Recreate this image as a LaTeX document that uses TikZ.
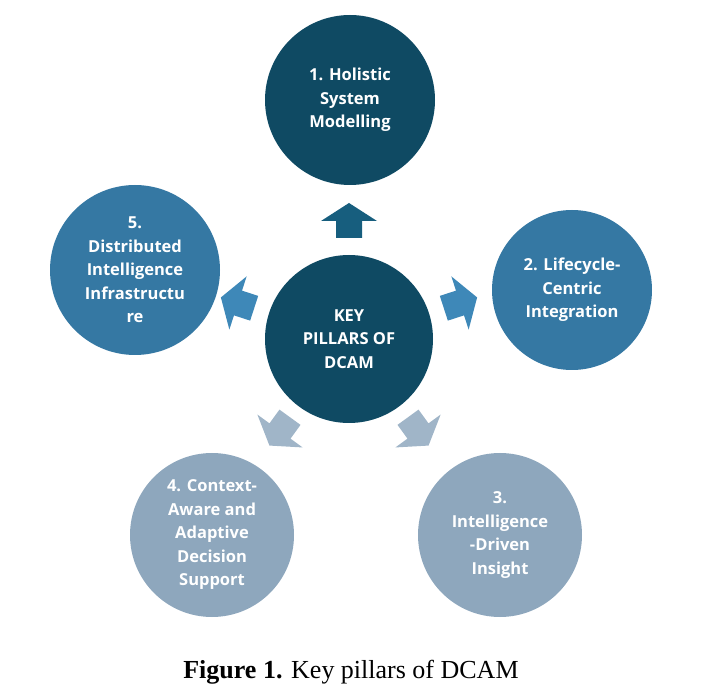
\documentclass[tikz,border=0pt]{standalone}
\usepackage{fontspec}
\usetikzlibrary{calc}
\setmainfont{Open Sans}
\newfontfamily\capfont{Liberation Serif}
\definecolor{cdark}{HTML}{0F4A63}
\definecolor{carrowd}{HTML}{175E7E}
\definecolor{cmid}{HTML}{3578A3}
\definecolor{carrowm}{HTML}{3E88B8}
\definecolor{clight}{HTML}{8EA7BD}
\definecolor{carrowl}{HTML}{A0B5C8}
\tikzset{
 pillar/.style={circle,minimum size=#1,inner sep=0pt,text=white,align=center,
   font=\fontsize{16.5}{23.5}\selectfont\bfseries},
 blockarrow/.pic={\fill[#1] (-17,-13)--(0,-13)--(0,-28)--(18,0)--(0,28)--(0,13)--(-17,13)--cycle;}
}
\begin{document}
\begin{tikzpicture}[x=1pt,y=-1pt]
\useasboundingbox (0,0) rectangle (702,700);
\node[pillar=168pt,fill=cdark] (c) at (349,339) {KEY\\PILLARS OF\\DCAM};
\node[pillar=170pt,fill=cdark] (p1) at (350,100) {1. Holistic\\System\\Modelling};
\node[pillar=160pt,fill=cmid] (p2) at (572,290) {2. Lifecycle-\\Centric\\Integration};
\node[pillar=164pt,fill=clight] (p3) at (500,535) {3.\\Intelligence\\-Driven\\Insight};
\node[pillar=164pt,fill=clight] (p4) at (212,535) {4. Context-\\Aware and\\Adaptive\\Decision\\Support};
\node[pillar=170pt,fill=cmid] (p5) at (135,270) {5.\\Distributed\\Intelligence\\Infrastructu\\re};
\pic[rotate=90] at ($(c)+(0,-118)$) {blockarrow=carrowd};
\pic[rotate=18] at ($(c)+(111,-36)$) {blockarrow=carrowm};
\pic[rotate=162] at ($(c)+(-111,-36)$) {blockarrow=carrowm};
\pic[rotate=-54] at ($(c)+(69,92)$) {blockarrow=carrowl};
\pic[rotate=-126] at ($(c)+(-69,92)$) {blockarrow=carrowl};
\node[font=\capfont\fontsize{26}{30}\selectfont] (cap) at (351,672) {\textbf{Figure 1.} Key pillars of DCAM};
\end{tikzpicture}
\end{document}
